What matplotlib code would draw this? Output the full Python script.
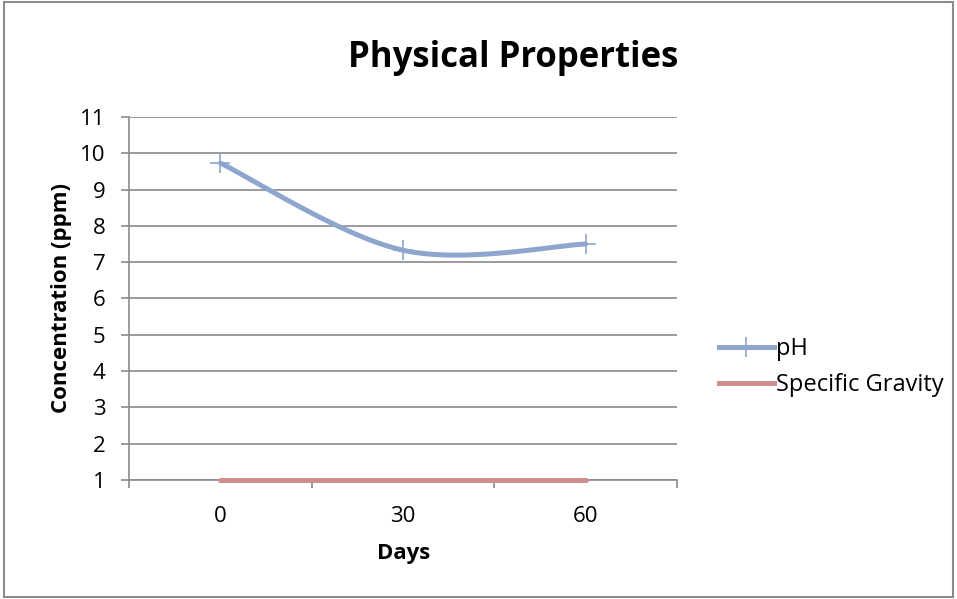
import numpy as np
import matplotlib
matplotlib.use("Agg")
import matplotlib.pyplot as plt
from matplotlib.lines import Line2D
from matplotlib.patches import Rectangle

plt.rcParams["font.family"] = ["Open Sans", "DejaVu Sans"]

days = ["0", "30", "60"]
ph = [9.73, 7.33, 7.5]
specific_gravity = [1.0, 1.0, 1.0]
y_ticks = list(range(1, 12))

BLUE = "#8EA6CE"
RED = "#D28E8E"
GRID = "#8A8A8A"
LW = 3.6


def smooth(xs, ys, n=60):
    # Bezier smoothing through every point, control points from neighbouring points
    pts = np.column_stack([xs, ys]).astype(float)
    padded = np.vstack([pts[0], pts, pts[-1]])
    out = []
    t = np.linspace(0, 1, n)[:, None]
    for i in range(len(pts) - 1):
        p0, p1, p2, p3 = padded[i], padded[i + 1], padded[i + 2], padded[i + 3]
        c1 = p1 + (p2 - p0) / 6
        c2 = p2 - (p3 - p1) / 6
        seg = ((1 - t) ** 3) * p1 + 3 * ((1 - t) ** 2) * t * c1 + 3 * (1 - t) * t ** 2 * c2 + t ** 3 * p2
        out.append(seg if i == 0 else seg[1:])
    seg = np.vstack(out)
    return seg[:, 0], seg[:, 1]


fig = plt.figure(figsize=(9.57, 5.99), dpi=100)
fig.patches.append(Rectangle((0.004, 0.004), 0.992, 0.992, transform=fig.transFigure,
                             fill=False, edgecolor="#8C8C8C", linewidth=1.5))
ax = fig.add_axes([129 / 957, 1 - 480 / 599, 548 / 957, 363 / 599])

x = np.arange(len(days))
sx, sy = smooth(x, ph)
ax.plot(sx, sy, color=BLUE, lw=LW, solid_capstyle="round", zorder=3)
ax.plot(x, ph, ls="none", marker="+", ms=15, mew=1.2, color=BLUE, zorder=4)
ax.plot(x, specific_gravity, color=RED, lw=LW, solid_capstyle="round", zorder=3, clip_on=False)

ax.set_xlim(-0.5, len(days) - 0.5)
ax.set_ylim(1, 11)
ax.set_yticks(y_ticks)
ax.set_yticklabels([str(v) for v in y_ticks], fontsize=16)
ax.yaxis.grid(True, color=GRID, lw=1.2)
ax.set_axisbelow(True)

ax.set_xticks(np.arange(-0.5, len(days), 1.0))
ax.set_xticklabels([])
ax.set_xticks(x, minor=True)
ax.set_xticklabels(days, minor=True, fontsize=16)
ax.tick_params(axis="x", which="minor", length=0, pad=19)
ax.tick_params(axis="x", which="major", length=6, color=GRID, width=1.2)
ax.tick_params(axis="y", length=6, color=GRID, width=1.2, pad=11)

for side in ("top", "right"):
    ax.spines[side].set_visible(False)
for side in ("left", "bottom"):
    ax.spines[side].set_color(GRID)
    ax.spines[side].set_linewidth(1.2)

fig.text(404 / 957, 1 - 553 / 599, "Days", ha="center", va="center",
         fontsize=16, fontweight="bold")
fig.text(62 / 957, 1 - 298 / 599, "Concentration (ppm)", ha="center", va="center",
         rotation=90, fontsize=16, fontweight="bold")
fig.text(513 / 957, 1 - 58 / 599, "Physical Properties", ha="center", va="center",
         fontsize=25, fontweight="bold")

handles = [
    Line2D([0, 0.5, 1], [0, 0, 0], color=BLUE, lw=LW, marker="+", ms=15, mew=1.2, markevery=[1]),
    Line2D([], [], color=RED, lw=LW),
]
fig.legend(handles, ["pH", "Specific Gravity"], loc="center left",
           bbox_to_anchor=(698 / 957, 1 - 367 / 599), frameon=False, fontsize=17,
           handlelength=2.3, handletextpad=0.1, labelspacing=0.5)

fig.savefig("out.png", dpi=100)
